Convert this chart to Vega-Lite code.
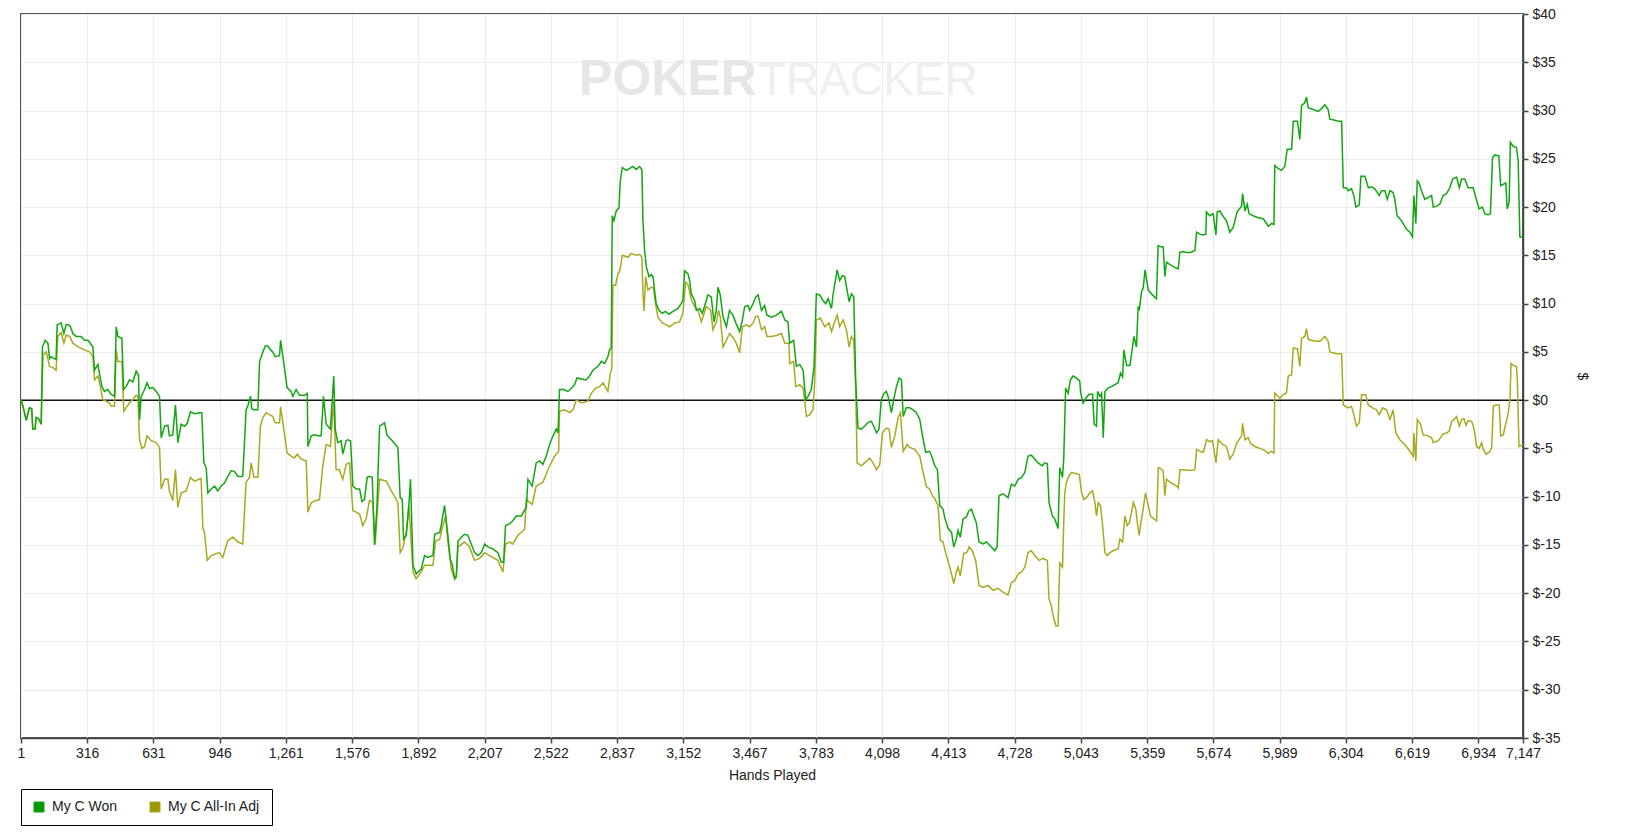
{
  "$schema": "https://vega.github.io/schema/vega-lite/v6.json",
  "width": 1502,
  "height": 724,
  "autosize": {"type": "none"},
  "padding": {"left": 21, "top": 14, "right": 112, "bottom": 98},
  "background": "#ffffff",
  "datasets": {
    "won": [
      {"h":1,"v":0.1},{"h":10,"v":-0.6},{"h":26,"v":-2.1},{"h":41,"v":-0.8},{"h":52,"v":-0.9},{"h":57,"v":-3.0},{"h":68,"v":-3.0},{"h":73,"v":-1.8},{"h":84,"v":-1.9},{"h":97,"v":-2.5},
      {"h":103,"v":5.5},{"h":116,"v":6.2},{"h":129,"v":5.9},{"h":137,"v":4.3},{"h":144,"v":4.5},{"h":160,"v":4.3},{"h":168,"v":4.2},{"h":173,"v":7.8},{"h":184,"v":7.9},{"h":192,"v":8.0},
      {"h":205,"v":6.9},{"h":216,"v":7.8},{"h":227,"v":7.8},{"h":236,"v":7.6},{"h":248,"v":6.9},{"h":263,"v":6.6},{"h":287,"v":6.6},{"h":303,"v":6.2},{"h":319,"v":6.2},{"h":327,"v":6.0},
      {"h":343,"v":5.5},{"h":351,"v":3.1},{"h":367,"v":3.7},{"h":374,"v":2.8},{"h":386,"v":1.4},{"h":398,"v":0.9},{"h":414,"v":1.1},{"h":430,"v":0.6},{"h":446,"v":0.4},{"h":454,"v":7.6},
      {"h":462,"v":6.6},{"h":481,"v":6.4},{"h":489,"v":1.1},{"h":501,"v":1.4},{"h":517,"v":2.1},{"h":533,"v":1.9},{"h":549,"v":3.0},{"h":560,"v":2.6},{"h":565,"v":-2.0},{"h":573,"v":0.4},
      {"h":589,"v":1.1},{"h":601,"v":1.8},{"h":612,"v":1.2},{"h":628,"v":1.3},{"h":644,"v":0.9},{"h":660,"v":0.4},{"h":668,"v":-3.9},{"h":684,"v":-2.7},{"h":700,"v":-2.6},{"h":707,"v":-3.7},
      {"h":723,"v":-3.6},{"h":736,"v":-0.5},{"h":747,"v":-4.4},{"h":763,"v":-2.5},{"h":779,"v":-2.7},{"h":792,"v":-2.4},{"h":807,"v":-1.2},{"h":826,"v":-1.4},{"h":850,"v":-1.3},{"h":861,"v":-1.3},
      {"h":871,"v":-6.5},{"h":882,"v":-7.0},{"h":890,"v":-9.6},{"h":906,"v":-9.2},{"h":922,"v":-8.9},{"h":937,"v":-9.4},{"h":953,"v":-8.9},{"h":969,"v":-8.6},{"h":985,"v":-7.9},{"h":1001,"v":-7.3},
      {"h":1017,"v":-7.4},{"h":1033,"v":-7.9},{"h":1056,"v":-7.9},{"h":1072,"v":-1.0},{"h":1080,"v":-0.6},{"h":1093,"v":0.4},{"h":1099,"v":-0.9},{"h":1109,"v":-1.0},{"h":1128,"v":-1.0},{"h":1136,"v":4.0},
      {"h":1152,"v":5.0},{"h":1163,"v":5.6},{"h":1175,"v":5.6},{"h":1188,"v":5.2},{"h":1199,"v":5.0},{"h":1210,"v":4.5},{"h":1231,"v":4.6},{"h":1236,"v":6.2},{"h":1247,"v":4.5},{"h":1267,"v":1.3},
      {"h":1286,"v":0.9},{"h":1294,"v":0.4},{"h":1310,"v":1.1},{"h":1326,"v":0.5},{"h":1350,"v":0.5},{"h":1363,"v":0.7},{"h":1366,"v":-4.8},{"h":1382,"v":-3.7},{"h":1397,"v":-3.6},{"h":1416,"v":-3.7},
      {"h":1429,"v":-3.7},{"h":1440,"v":0.4},{"h":1453,"v":-2.5},{"h":1473,"v":-3.0},{"h":1489,"v":2.5},{"h":1496,"v":-3.0},{"h":1508,"v":-4.4},{"h":1524,"v":-4.2},{"h":1532,"v":-5.6},{"h":1548,"v":-4.2},
      {"h":1556,"v":-4.1},{"h":1569,"v":-4.2},{"h":1580,"v":-8.9},{"h":1596,"v":-9.2},{"h":1612,"v":-9.2},{"h":1623,"v":-10.5},{"h":1635,"v":-10.3},{"h":1648,"v":-8.0},{"h":1659,"v":-7.9},{"h":1672,"v":-8.0},
      {"h":1683,"v":-15.0},{"h":1694,"v":-11.3},{"h":1707,"v":-2.7},{"h":1731,"v":-2.35},{"h":1742,"v":-3.6},{"h":1763,"v":-4.1},{"h":1794,"v":-4.9},{"h":1805,"v":-10.1},{"h":1815,"v":-10.3},{"h":1821,"v":-14.4},
      {"h":1834,"v":-14.0},{"h":1847,"v":-10.6},{"h":1854,"v":-8.2},{"h":1866,"v":-17.1},{"h":1881,"v":-18.0},{"h":1905,"v":-17.5},{"h":1921,"v":-16.1},{"h":1937,"v":-16.3},{"h":1961,"v":-16.1},{"h":1969,"v":-13.9},
      {"h":1993,"v":-13.7},{"h":2000,"v":-13.0},{"h":2016,"v":-10.9},{"h":2032,"v":-14.0},{"h":2043,"v":-16.4},{"h":2053,"v":-17.1},{"h":2064,"v":-18.5},{"h":2072,"v":-18.2},{"h":2080,"v":-14.6},{"h":2096,"v":-14.2},
      {"h":2111,"v":-13.9},{"h":2127,"v":-14.0},{"h":2143,"v":-14.9},{"h":2159,"v":-15.8},{"h":2175,"v":-16.1},{"h":2191,"v":-15.8},{"h":2207,"v":-14.9},{"h":2222,"v":-15.2},{"h":2246,"v":-15.4},{"h":2270,"v":-15.8},
      {"h":2286,"v":-16.8},{"h":2297,"v":-16.8},{"h":2306,"v":-13.0},{"h":2326,"v":-12.8},{"h":2341,"v":-12.5},{"h":2357,"v":-12.0},{"h":2381,"v":-12.0},{"h":2405,"v":-11.1},{"h":2413,"v":-8.2},{"h":2433,"v":-8.9},
      {"h":2452,"v":-6.5},{"h":2468,"v":-6.3},{"h":2484,"v":-6.65},{"h":2500,"v":-5.8},{"h":2516,"v":-4.6},{"h":2532,"v":-3.7},{"h":2548,"v":-3.0},{"h":2556,"v":-3.4},{"h":2563,"v":1.1},{"h":2583,"v":1.1},
      {"h":2603,"v":0.9},{"h":2619,"v":1.2},{"h":2635,"v":1.6},{"h":2646,"v":2.3},{"h":2667,"v":2.2},{"h":2690,"v":2.1},{"h":2709,"v":2.6},{"h":2722,"v":3.1},{"h":2746,"v":3.5},{"h":2762,"v":4.0},
      {"h":2778,"v":3.8},{"h":2793,"v":4.5},{"h":2801,"v":5.2},{"h":2809,"v":5.4},{"h":2814,"v":19.1},{"h":2822,"v":18.6},{"h":2833,"v":19.6},{"h":2846,"v":19.9},{"h":2852,"v":22.7},{"h":2862,"v":24.1},
      {"h":2881,"v":23.8},{"h":2897,"v":24.0},{"h":2912,"v":24.2},{"h":2928,"v":23.9},{"h":2944,"v":24.2},{"h":2955,"v":23.9},{"h":2960,"v":18.6},{"h":2968,"v":15.5},{"h":2976,"v":13.8},{"h":2989,"v":12.8},
      {"h":3000,"v":13.0},{"h":3008,"v":12.8},{"h":3015,"v":11.4},{"h":3023,"v":10.0},{"h":3036,"v":9.3},{"h":3052,"v":9.0},{"h":3068,"v":9.2},{"h":3084,"v":8.9},{"h":3103,"v":9.2},{"h":3127,"v":9.5},
      {"h":3142,"v":10.0},{"h":3150,"v":10.3},{"h":3158,"v":13.4},{"h":3174,"v":13.1},{"h":3182,"v":12.4},{"h":3190,"v":11.0},{"h":3206,"v":10.3},{"h":3214,"v":9.3},{"h":3230,"v":9.5},{"h":3242,"v":9.0},
      {"h":3253,"v":9.7},{"h":3269,"v":10.9},{"h":3285,"v":10.7},{"h":3298,"v":8.1},{"h":3309,"v":9.3},{"h":3317,"v":11.7},{"h":3328,"v":10.9},{"h":3341,"v":8.6},{"h":3357,"v":7.6},{"h":3372,"v":9.3},
      {"h":3388,"v":8.8},{"h":3404,"v":7.9},{"h":3420,"v":7.1},{"h":3433,"v":8.3},{"h":3444,"v":9.7},{"h":3460,"v":9.8},{"h":3468,"v":9.3},{"h":3484,"v":10.0},{"h":3497,"v":10.7},{"h":3508,"v":10.9},
      {"h":3524,"v":9.3},{"h":3539,"v":9.8},{"h":3550,"v":8.8},{"h":3571,"v":8.6},{"h":3595,"v":8.8},{"h":3619,"v":9.2},{"h":3635,"v":8.3},{"h":3650,"v":8.1},{"h":3658,"v":5.9},{"h":3677,"v":6.2},
      {"h":3690,"v":3.5},{"h":3706,"v":3.7},{"h":3722,"v":3.1},{"h":3734,"v":0.05},{"h":3746,"v":0.4},{"h":3761,"v":1.1},{"h":3774,"v":3.5},{"h":3785,"v":11.0},{"h":3801,"v":10.9},{"h":3817,"v":10.3},
      {"h":3830,"v":10.0},{"h":3841,"v":10.5},{"h":3857,"v":9.5},{"h":3865,"v":11.0},{"h":3884,"v":13.5},{"h":3896,"v":12.4},{"h":3909,"v":12.9},{"h":3920,"v":12.8},{"h":3931,"v":11.4},{"h":3941,"v":10.2},
      {"h":3952,"v":11.0},{"h":3963,"v":10.7},{"h":3972,"v":2.1},{"h":3983,"v":-2.9},{"h":3999,"v":-3.0},{"h":4015,"v":-2.7},{"h":4031,"v":-2.3},{"h":4047,"v":-2.2},{"h":4058,"v":-2.7},{"h":4071,"v":-3.4},
      {"h":4083,"v":-3.0},{"h":4094,"v":0.05},{"h":4106,"v":0.7},{"h":4118,"v":0.9},{"h":4126,"v":0.4},{"h":4142,"v":-1.3},{"h":4153,"v":0.05},{"h":4166,"v":1.4},{"h":4179,"v":2.3},{"h":4190,"v":2.1},
      {"h":4198,"v":-1.7},{"h":4213,"v":-0.8},{"h":4229,"v":-0.8},{"h":4245,"v":-1.0},{"h":4261,"v":-1.3},{"h":4277,"v":-2.0},{"h":4290,"v":-3.7},{"h":4305,"v":-5.4},{"h":4324,"v":-5.3},{"h":4337,"v":-6.0},
      {"h":4348,"v":-6.8},{"h":4361,"v":-7.2},{"h":4372,"v":-10.9},{"h":4388,"v":-11.3},{"h":4396,"v":-12.2},{"h":4412,"v":-13.3},{"h":4428,"v":-13.7},{"h":4439,"v":-15.2},{"h":4451,"v":-14.4},{"h":4459,"v":-13.5},
      {"h":4470,"v":-14.2},{"h":4483,"v":-12.3},{"h":4499,"v":-12.1},{"h":4510,"v":-11.5},{"h":4523,"v":-11.3},{"h":4534,"v":-12.0},{"h":4546,"v":-12.7},{"h":4559,"v":-14.7},{"h":4578,"v":-14.9},{"h":4594,"v":-14.7},
      {"h":4613,"v":-15.1},{"h":4634,"v":-15.6},{"h":4645,"v":-15.2},{"h":4654,"v":-9.9},{"h":4673,"v":-9.7},{"h":4697,"v":-10.1},{"h":4713,"v":-8.7},{"h":4729,"v":-8.9},{"h":4745,"v":-8.2},{"h":4761,"v":-8.0},
      {"h":4777,"v":-7.5},{"h":4792,"v":-5.8},{"h":4808,"v":-5.7},{"h":4824,"v":-6.1},{"h":4840,"v":-6.5},{"h":4860,"v":-6.8},{"h":4872,"v":-6.5},{"h":4884,"v":-6.6},{"h":4892,"v":-10.6},{"h":4908,"v":-12.0},
      {"h":4919,"v":-12.3},{"h":4935,"v":-13.3},{"h":4943,"v":-7.0},{"h":4956,"v":-8.0},{"h":4962,"v":-6.1},{"h":4971,"v":1.25},{"h":4983,"v":0.7},{"h":4994,"v":2.1},{"h":5006,"v":2.5},{"h":5022,"v":2.3},
      {"h":5038,"v":2.0},{"h":5043,"v":0.7},{"h":5054,"v":-0.3},{"h":5067,"v":0.2},{"h":5083,"v":0.6},{"h":5099,"v":0.6},{"h":5107,"v":-2.5},{"h":5118,"v":-2.7},{"h":5123,"v":0.9},{"h":5134,"v":0.4},
      {"h":5142,"v":0.7},{"h":5150,"v":-3.9},{"h":5158,"v":0.9},{"h":5173,"v":1.25},{"h":5189,"v":1.4},{"h":5205,"v":1.6},{"h":5221,"v":1.8},{"h":5232,"v":2.8},{"h":5242,"v":2.4},{"h":5248,"v":5.2},
      {"h":5261,"v":3.6},{"h":5277,"v":3.6},{"h":5289,"v":5.5},{"h":5296,"v":6.6},{"h":5308,"v":5.5},{"h":5316,"v":9.7},{"h":5321,"v":9.3},{"h":5332,"v":11.2},{"h":5340,"v":11.6},{"h":5349,"v":13.5},
      {"h":5364,"v":11.4},{"h":5384,"v":10.9},{"h":5403,"v":10.5},{"h":5411,"v":16.0},{"h":5422,"v":15.9},{"h":5435,"v":15.9},{"h":5443,"v":12.8},{"h":5451,"v":14.3},{"h":5470,"v":14.0},{"h":5486,"v":13.8},
      {"h":5507,"v":13.6},{"h":5514,"v":15.3},{"h":5530,"v":15.4},{"h":5546,"v":15.3},{"h":5565,"v":15.3},{"h":5586,"v":15.5},{"h":5594,"v":17.4},{"h":5610,"v":17.2},{"h":5625,"v":17.1},{"h":5638,"v":17.2},
      {"h":5641,"v":19.5},{"h":5657,"v":19.1},{"h":5673,"v":19.3},{"h":5686,"v":17.1},{"h":5692,"v":19.5},{"h":5705,"v":19.6},{"h":5721,"v":19.0},{"h":5736,"v":18.6},{"h":5752,"v":17.4},{"h":5768,"v":17.9},
      {"h":5787,"v":19.5},{"h":5808,"v":20.1},{"h":5813,"v":21.4},{"h":5824,"v":19.6},{"h":5835,"v":20.3},{"h":5844,"v":19.3},{"h":5863,"v":19.1},{"h":5887,"v":18.9},{"h":5911,"v":18.8},{"h":5927,"v":18.3},
      {"h":5935,"v":18.0},{"h":5951,"v":18.3},{"h":5962,"v":18.2},{"h":5966,"v":24.3},{"h":5982,"v":24.0},{"h":5998,"v":23.8},{"h":6014,"v":24.2},{"h":6025,"v":26.0},{"h":6046,"v":26.0},{"h":6054,"v":28.9},
      {"h":6074,"v":28.9},{"h":6085,"v":27.0},{"h":6089,"v":28.6},{"h":6093,"v":30.5},{"h":6109,"v":30.8},{"h":6117,"v":31.4},{"h":6125,"v":30.3},{"h":6149,"v":30.1},{"h":6173,"v":29.9},{"h":6188,"v":30.2},
      {"h":6204,"v":30.6},{"h":6220,"v":30.1},{"h":6228,"v":29.1},{"h":6252,"v":29.0},{"h":6268,"v":28.9},{"h":6284,"v":28.9},{"h":6292,"v":22.0},{"h":6307,"v":22.0},{"h":6315,"v":21.7},{"h":6331,"v":21.9},
      {"h":6342,"v":21.2},{"h":6352,"v":20.0},{"h":6368,"v":20.2},{"h":6376,"v":23.2},{"h":6395,"v":23.2},{"h":6411,"v":22.0},{"h":6426,"v":22.1},{"h":6442,"v":21.9},{"h":6463,"v":21.2},{"h":6474,"v":21.7},
      {"h":6490,"v":21.7},{"h":6501,"v":20.8},{"h":6514,"v":21.7},{"h":6529,"v":21.5},{"h":6537,"v":20.8},{"h":6548,"v":19.1},{"h":6561,"v":18.8},{"h":6577,"v":18.3},{"h":6593,"v":17.7},{"h":6609,"v":17.4},
      {"h":6621,"v":16.9},{"h":6628,"v":21.2},{"h":6637,"v":18.3},{"h":6644,"v":22.7},{"h":6652,"v":22.5},{"h":6664,"v":21.7},{"h":6680,"v":20.8},{"h":6696,"v":21.0},{"h":6712,"v":21.2},{"h":6720,"v":20.0},
      {"h":6736,"v":20.1},{"h":6751,"v":20.3},{"h":6767,"v":21.2},{"h":6783,"v":21.4},{"h":6799,"v":22.0},{"h":6812,"v":22.9},{"h":6831,"v":23.1},{"h":6844,"v":22.0},{"h":6855,"v":22.9},{"h":6870,"v":22.9},
      {"h":6886,"v":22.0},{"h":6910,"v":22.0},{"h":6926,"v":20.7},{"h":6938,"v":19.8},{"h":6954,"v":20.0},{"h":6965,"v":19.3},{"h":6981,"v":19.2},{"h":6992,"v":19.3},{"h":7002,"v":25.1},{"h":7013,"v":25.4},
      {"h":7032,"v":25.3},{"h":7041,"v":22.2},{"h":7056,"v":22.4},{"h":7065,"v":22.5},{"h":7072,"v":19.8},{"h":7081,"v":20.5},{"h":7087,"v":26.7},{"h":7100,"v":26.3},{"h":7116,"v":26.2},{"h":7124,"v":24.8},
      {"h":7132,"v":16.9},{"h":7147,"v":16.9}
    ],
    "adj": [
      {"h":1,"v":0.1},{"h":10,"v":-0.6},{"h":26,"v":-2.1},{"h":41,"v":-0.8},{"h":52,"v":-0.9},{"h":57,"v":-3.0},{"h":68,"v":-3.0},{"h":73,"v":-1.8},{"h":84,"v":-1.9},{"h":97,"v":-2.5},
      {"h":106,"v":4.7},{"h":121,"v":5.0},{"h":137,"v":3.5},{"h":152,"v":3.4},{"h":168,"v":3.1},{"h":176,"v":6.6},{"h":192,"v":7.0},{"h":205,"v":5.9},{"h":216,"v":6.75},{"h":232,"v":6.6},
      {"h":248,"v":5.9},{"h":271,"v":5.55},{"h":303,"v":5.2},{"h":327,"v":5.0},{"h":343,"v":4.5},{"h":351,"v":2.1},{"h":367,"v":2.5},{"h":379,"v":1.4},{"h":390,"v":0.05},{"h":406,"v":-0.1},
      {"h":422,"v":-0.3},{"h":430,"v":-0.6},{"h":446,"v":-0.6},{"h":454,"v":5.2},{"h":462,"v":4.0},{"h":481,"v":4.0},{"h":490,"v":-1.15},{"h":501,"v":-0.8},{"h":517,"v":-0.3},{"h":533,"v":0.05},
      {"h":549,"v":0.5},{"h":557,"v":0.4},{"h":565,"v":-4.1},{"h":576,"v":-5.0},{"h":589,"v":-4.8},{"h":601,"v":-3.7},{"h":620,"v":-4.2},{"h":644,"v":-4.4},{"h":660,"v":-4.9},{"h":668,"v":-9.2},
      {"h":684,"v":-8.2},{"h":700,"v":-8.2},{"h":707,"v":-9.4},{"h":723,"v":-10.4},{"h":736,"v":-7.2},{"h":747,"v":-11.1},{"h":763,"v":-9.6},{"h":787,"v":-9.4},{"h":807,"v":-8.0},{"h":826,"v":-8.4},
      {"h":858,"v":-8.1},{"h":866,"v":-13.2},{"h":874,"v":-13.7},{"h":887,"v":-16.6},{"h":906,"v":-16.1},{"h":930,"v":-15.9},{"h":945,"v":-15.8},{"h":961,"v":-16.3},{"h":985,"v":-14.55},{"h":1009,"v":-14.2},
      {"h":1033,"v":-14.7},{"h":1056,"v":-14.9},{"h":1072,"v":-8.5},{"h":1088,"v":-8.0},{"h":1096,"v":-6.5},{"h":1109,"v":-8.0},{"h":1128,"v":-8.0},{"h":1140,"v":-2.7},{"h":1152,"v":-1.8},{"h":1167,"v":-1.3},
      {"h":1183,"v":-1.5},{"h":1199,"v":-1.7},{"h":1210,"v":-2.35},{"h":1231,"v":-2.35},{"h":1236,"v":-0.7},{"h":1247,"v":-2.35},{"h":1267,"v":-5.45},{"h":1286,"v":-5.8},{"h":1302,"v":-6.0},{"h":1315,"v":-5.6},
      {"h":1334,"v":-6.1},{"h":1358,"v":-6.3},{"h":1366,"v":-11.6},{"h":1382,"v":-10.6},{"h":1405,"v":-10.4},{"h":1421,"v":-10.3},{"h":1437,"v":-6.8},{"h":1453,"v":-4.6},{"h":1473,"v":-4.8},{"h":1489,"v":0.05},
      {"h":1500,"v":-7.2},{"h":1516,"v":-7.2},{"h":1532,"v":-8.2},{"h":1548,"v":-6.65},{"h":1564,"v":-6.5},{"h":1580,"v":-11.45},{"h":1596,"v":-11.6},{"h":1612,"v":-11.8},{"h":1627,"v":-13.0},{"h":1643,"v":-12.3},
      {"h":1659,"v":-10.4},{"h":1675,"v":-10.6},{"h":1686,"v":-14.9},{"h":1707,"v":-8.2},{"h":1739,"v":-8.4},{"h":1763,"v":-9.4},{"h":1794,"v":-10.6},{"h":1805,"v":-15.8},{"h":1818,"v":-15.3},{"h":1835,"v":-13.5},
      {"h":1847,"v":-11.0},{"h":1866,"v":-17.8},{"h":1881,"v":-18.5},{"h":1905,"v":-17.8},{"h":1921,"v":-17.1},{"h":1961,"v":-17.1},{"h":1973,"v":-14.6},{"h":1993,"v":-14.4},{"h":2008,"v":-13.0},{"h":2021,"v":-12.0},
      {"h":2032,"v":-14.7},{"h":2048,"v":-17.5},{"h":2064,"v":-18.5},{"h":2072,"v":-18.4},{"h":2080,"v":-15.2},{"h":2111,"v":-14.7},{"h":2135,"v":-15.2},{"h":2159,"v":-16.6},{"h":2183,"v":-16.4},{"h":2207,"v":-15.8},
      {"h":2230,"v":-16.1},{"h":2270,"v":-16.6},{"h":2294,"v":-17.8},{"h":2306,"v":-14.9},{"h":2326,"v":-14.7},{"h":2341,"v":-14.9},{"h":2365,"v":-14.0},{"h":2397,"v":-13.4},{"h":2405,"v":-10.3},{"h":2433,"v":-10.8},
      {"h":2452,"v":-8.9},{"h":2484,"v":-8.5},{"h":2516,"v":-6.8},{"h":2540,"v":-5.8},{"h":2559,"v":-5.3},{"h":2563,"v":-1.15},{"h":2587,"v":-1.0},{"h":2611,"v":-1.3},{"h":2627,"v":-1.0},{"h":2643,"v":0.05},
      {"h":2667,"v":-0.3},{"h":2698,"v":-0.1},{"h":2714,"v":0.7},{"h":2735,"v":1.25},{"h":2754,"v":1.4},{"h":2770,"v":1.8},{"h":2780,"v":1.4},{"h":2793,"v":0.9},{"h":2805,"v":2.8},{"h":2812,"v":3.3},
      {"h":2817,"v":11.9},{"h":2830,"v":11.9},{"h":2841,"v":13.1},{"h":2849,"v":13.3},{"h":2862,"v":15.0},{"h":2889,"v":14.8},{"h":2904,"v":15.2},{"h":2928,"v":15.0},{"h":2944,"v":15.1},{"h":2955,"v":14.8},
      {"h":2960,"v":11.0},{"h":2965,"v":9.2},{"h":2973,"v":12.8},{"h":2984,"v":11.4},{"h":3000,"v":11.7},{"h":3010,"v":11.6},{"h":3020,"v":10.0},{"h":3031,"v":8.6},{"h":3052,"v":8.0},{"h":3071,"v":7.8},
      {"h":3087,"v":7.6},{"h":3111,"v":8.0},{"h":3134,"v":8.1},{"h":3150,"v":9.0},{"h":3163,"v":12.2},{"h":3174,"v":12.0},{"h":3190,"v":10.4},{"h":3206,"v":9.7},{"h":3222,"v":9.3},{"h":3238,"v":8.1},
      {"h":3261,"v":9.7},{"h":3282,"v":9.3},{"h":3293,"v":7.3},{"h":3309,"v":8.1},{"h":3320,"v":9.3},{"h":3328,"v":8.6},{"h":3341,"v":5.5},{"h":3357,"v":6.2},{"h":3372,"v":6.9},{"h":3388,"v":6.5},
      {"h":3404,"v":5.9},{"h":3420,"v":4.9},{"h":3433,"v":7.6},{"h":3452,"v":7.8},{"h":3468,"v":7.6},{"h":3484,"v":8.0},{"h":3497,"v":8.7},{"h":3508,"v":8.7},{"h":3524,"v":7.3},{"h":3539,"v":7.6},
      {"h":3550,"v":6.6},{"h":3571,"v":6.6},{"h":3595,"v":6.7},{"h":3619,"v":6.9},{"h":3635,"v":5.9},{"h":3655,"v":5.9},{"h":3658,"v":3.8},{"h":3677,"v":4.0},{"h":3687,"v":1.4},{"h":3706,"v":1.6},
      {"h":3722,"v":1.25},{"h":3738,"v":-1.7},{"h":3753,"v":-1.5},{"h":3769,"v":-1.0},{"h":3777,"v":1.8},{"h":3785,"v":8.3},{"h":3804,"v":8.5},{"h":3825,"v":7.6},{"h":3845,"v":8.0},{"h":3857,"v":7.1},
      {"h":3872,"v":8.1},{"h":3884,"v":8.8},{"h":3896,"v":7.6},{"h":3912,"v":8.3},{"h":3928,"v":7.3},{"h":3941,"v":5.5},{"h":3952,"v":6.6},{"h":3963,"v":6.2},{"h":3972,"v":1.4},{"h":3979,"v":-6.5},
      {"h":3999,"v":-6.8},{"h":4015,"v":-6.5},{"h":4039,"v":-6.0},{"h":4055,"v":-6.5},{"h":4071,"v":-7.2},{"h":4087,"v":-6.65},{"h":4099,"v":-3.4},{"h":4118,"v":-2.9},{"h":4131,"v":-3.0},{"h":4142,"v":-4.9},
      {"h":4158,"v":-3.7},{"h":4174,"v":-1.8},{"h":4185,"v":-1.3},{"h":4198,"v":-5.3},{"h":4217,"v":-4.6},{"h":4229,"v":-4.9},{"h":4253,"v":-5.1},{"h":4277,"v":-5.8},{"h":4293,"v":-7.5},{"h":4309,"v":-9.0},
      {"h":4324,"v":-9.2},{"h":4337,"v":-9.9},{"h":4348,"v":-10.2},{"h":4364,"v":-10.9},{"h":4375,"v":-14.5},{"h":4388,"v":-14.7},{"h":4401,"v":-15.9},{"h":4420,"v":-17.3},{"h":4439,"v":-19.0},{"h":4451,"v":-17.8},
      {"h":4459,"v":-17.3},{"h":4470,"v":-18.2},{"h":4486,"v":-15.9},{"h":4502,"v":-15.75},{"h":4512,"v":-15.2},{"h":4527,"v":-15.6},{"h":4543,"v":-16.6},{"h":4559,"v":-19.2},{"h":4578,"v":-19.4},{"h":4602,"v":-19.2},
      {"h":4626,"v":-19.7},{"h":4650,"v":-19.5},{"h":4673,"v":-19.9},{"h":4697,"v":-20.2},{"h":4713,"v":-18.9},{"h":4729,"v":-18.7},{"h":4745,"v":-18.0},{"h":4761,"v":-17.8},{"h":4777,"v":-17.3},{"h":4792,"v":-15.8},
      {"h":4808,"v":-15.6},{"h":4824,"v":-16.1},{"h":4845,"v":-16.6},{"h":4864,"v":-16.4},{"h":4884,"v":-16.6},{"h":4892,"v":-20.6},{"h":4903,"v":-21.3},{"h":4911,"v":-22.3},{"h":4925,"v":-23.4},{"h":4935,"v":-23.4},
      {"h":4943,"v":-16.9},{"h":4956,"v":-17.3},{"h":4963,"v":-12.0},{"h":4967,"v":-9.6},{"h":4975,"v":-8.5},{"h":4988,"v":-7.8},{"h":4999,"v":-7.5},{"h":5020,"v":-7.6},{"h":5036,"v":-7.7},{"h":5047,"v":-9.6},
      {"h":5058,"v":-10.3},{"h":5070,"v":-10.1},{"h":5086,"v":-9.6},{"h":5099,"v":-9.4},{"h":5110,"v":-10.6},{"h":5118,"v":-12.0},{"h":5126,"v":-10.6},{"h":5137,"v":-10.95},{"h":5147,"v":-13.0},{"h":5158,"v":-15.8},
      {"h":5169,"v":-16.1},{"h":5182,"v":-15.8},{"h":5197,"v":-15.6},{"h":5221,"v":-15.4},{"h":5229,"v":-14.4},{"h":5242,"v":-14.7},{"h":5253,"v":-12.0},{"h":5264,"v":-13.0},{"h":5274,"v":-12.7},{"h":5285,"v":-11.6},
      {"h":5293,"v":-10.6},{"h":5305,"v":-11.3},{"h":5312,"v":-12.7},{"h":5321,"v":-14.0},{"h":5329,"v":-12.7},{"h":5340,"v":-11.3},{"h":5351,"v":-9.6},{"h":5364,"v":-10.9},{"h":5375,"v":-12.0},{"h":5391,"v":-12.3},
      {"h":5404,"v":-12.5},{"h":5412,"v":-7.0},{"h":5423,"v":-7.1},{"h":5435,"v":-7.3},{"h":5443,"v":-9.9},{"h":5451,"v":-8.2},{"h":5467,"v":-8.5},{"h":5483,"v":-8.7},{"h":5499,"v":-8.9},{"h":5507,"v":-9.1},
      {"h":5515,"v":-7.2},{"h":5531,"v":-7.2},{"h":5562,"v":-7.3},{"h":5586,"v":-7.2},{"h":5594,"v":-5.1},{"h":5610,"v":-5.3},{"h":5626,"v":-5.4},{"h":5642,"v":-4.1},{"h":5659,"v":-4.3},{"h":5670,"v":-4.2},
      {"h":5686,"v":-6.5},{"h":5697,"v":-4.1},{"h":5713,"v":-4.5},{"h":5736,"v":-4.8},{"h":5752,"v":-6.1},{"h":5768,"v":-5.6},{"h":5784,"v":-4.5},{"h":5808,"v":-3.7},{"h":5813,"v":-2.4},{"h":5824,"v":-4.1},
      {"h":5840,"v":-3.9},{"h":5851,"v":-4.5},{"h":5871,"v":-4.8},{"h":5895,"v":-5.0},{"h":5919,"v":-5.2},{"h":5935,"v":-5.5},{"h":5951,"v":-5.3},{"h":5962,"v":-5.5},{"h":5966,"v":0.74},{"h":5990,"v":0.2},
      {"h":6006,"v":0.57},{"h":6022,"v":0.74},{"h":6030,"v":2.5},{"h":6046,"v":2.6},{"h":6054,"v":5.4},{"h":6074,"v":5.3},{"h":6085,"v":3.5},{"h":6093,"v":6.4},{"h":6109,"v":6.6},{"h":6117,"v":7.4},
      {"h":6125,"v":6.3},{"h":6157,"v":6.1},{"h":6181,"v":6.1},{"h":6204,"v":6.6},{"h":6220,"v":6.1},{"h":6228,"v":5.0},{"h":6260,"v":4.8},{"h":6284,"v":4.8},{"h":6292,"v":-0.5},{"h":6315,"v":-0.8},
      {"h":6331,"v":-0.65},{"h":6342,"v":-1.5},{"h":6355,"v":-2.7},{"h":6368,"v":-2.35},{"h":6379,"v":0.57},{"h":6399,"v":0.57},{"h":6411,"v":-0.5},{"h":6431,"v":-0.8},{"h":6450,"v":-1.0},{"h":6463,"v":-1.5},
      {"h":6479,"v":-0.8},{"h":6498,"v":-1.0},{"h":6514,"v":-2.0},{"h":6529,"v":-1.0},{"h":6542,"v":-3.4},{"h":6561,"v":-4.1},{"h":6585,"v":-4.6},{"h":6609,"v":-5.3},{"h":6625,"v":-5.8},{"h":6628,"v":-3.4},
      {"h":6637,"v":-6.3},{"h":6644,"v":-2.0},{"h":6660,"v":-2.5},{"h":6672,"v":-3.6},{"h":6696,"v":-3.7},{"h":6712,"v":-3.9},{"h":6720,"v":-4.4},{"h":6744,"v":-4.2},{"h":6768,"v":-3.5},{"h":6784,"v":-3.4},
      {"h":6796,"v":-3.2},{"h":6808,"v":-2.2},{"h":6819,"v":-2.0},{"h":6831,"v":-1.7},{"h":6844,"v":-2.7},{"h":6855,"v":-2.0},{"h":6866,"v":-1.9},{"h":6876,"v":-2.6},{"h":6887,"v":-2.1},{"h":6903,"v":-2.2},
      {"h":6911,"v":-2.7},{"h":6919,"v":-3.6},{"h":6926,"v":-4.8},{"h":6939,"v":-5.0},{"h":6950,"v":-4.4},{"h":6958,"v":-5.1},{"h":6971,"v":-5.6},{"h":6987,"v":-5.4},{"h":6998,"v":-4.9},{"h":7006,"v":-0.6},
      {"h":7018,"v":-0.5},{"h":7034,"v":-0.5},{"h":7041,"v":-3.7},{"h":7053,"v":-3.6},{"h":7077,"v":-1.3},{"h":7085,"v":0.1},{"h":7090,"v":3.8},{"h":7100,"v":3.6},{"h":7116,"v":3.5},{"h":7120,"v":2.1},
      {"h":7128,"v":-4.8},{"h":7147,"v":-4.6}
    ]
  },
  "layer": [
    {
      "data": {"values": [{"t": "POKER"}]},
      "mark": {"type": "text", "font": "Liberation Sans", "fontWeight": "bold", "fontSize": 50, "color": "#e6e6e6", "align": "right", "baseline": "alphabetic"},
      "encoding": {
        "x": {"datum": 3502, "type": "quantitative", "scale": {"domain": [1, 7147], "nice": false, "zero": false}},
        "y": {"datum": 31.6, "type": "quantitative", "scale": {"domain": [-35, 40], "nice": false, "zero": false}},
        "text": {"field": "t"}
      }
    },
    {
      "data": {"values": [{"t": "TRACKER"}]},
      "mark": {"type": "text", "font": "Liberation Sans", "fontWeight": "normal", "fontSize": 46, "color": "#efefef", "align": "left", "baseline": "alphabetic"},
      "encoding": {
        "x": {"datum": 3507, "type": "quantitative"},
        "y": {"datum": 31.6, "type": "quantitative"},
        "text": {"field": "t"}
      }
    },
    {
      "data": {"values": [{}]},
      "mark": {"type": "rule", "color": "#111111", "strokeWidth": 1.5},
      "encoding": {"y": {"datum": 0, "type": "quantitative"}}
    },
    {
      "data": {"name": "adj"},
      "mark": {"type": "line", "strokeWidth": 1.5, "interpolate": "linear"},
      "encoding": {
        "x": {
          "field": "h", "type": "quantitative", "title": "Hands Played",
          "scale": {"domain": [1, 7147], "nice": false, "zero": false},
          "axis": {
            "values": [1,316,631,946,1261,1576,1892,2207,2522,2837,3152,3467,3783,4098,4413,4728,5043,5359,5674,5989,6304,6619,6934,7147],
            "format": ",d", "labelFlush": false, "labelOverlap": false, "labelPadding": 3, "titlePadding": 8, "grid": true
          }
        },
        "y": {
          "field": "v", "type": "quantitative", "title": "$",
          "scale": {"domain": [-35, 40], "nice": false, "zero": false},
          "axis": {
            "orient": "right",
            "values": [-35,-30,-25,-20,-15,-10,-5,0,5,10,15,20,25,30,35,40],
            "labelExpr": "'$' + datum.value", "labelPadding": 4, "titlePadding": 14, "grid": true
          }
        },
        "color": {
          "datum": "My C All-In Adj",
          "scale": {"domain": ["My C Won", "My C All-In Adj"], "range": ["#12a612", "#a9a921"]},
          "legend": {
            "orient": "none", "legendX": 0, "legendY": 775, "direction": "horizontal", "title": null,
            "padding": 11, "strokeColor": "#000000", "fillColor": "#ffffff",
            "symbolType": "square", "symbolSize": 100, "symbolStrokeWidth": 1, "symbolStrokeColor": "#222222",
            "labelFont": "Liberation Sans", "labelFontSize": 14, "labelColor": "#222222", "labelOffset": 6, "columnPadding": 30,
            "encode": {"symbols": {"update": {
              "fill": [{"test": "datum.value === 'My C Won'", "value": "#009a00"}, {"value": "#9a9a00"}],
              "stroke": {"value": "#222222"}, "strokeWidth": {"value": 1}, "opacity": {"value": 1}
            }}}
          }
        }
      }
    },
    {
      "data": {"name": "won"},
      "mark": {"type": "line", "strokeWidth": 1.5, "interpolate": "linear"},
      "encoding": {
        "x": {"field": "h", "type": "quantitative"},
        "y": {"field": "v", "type": "quantitative"},
        "color": {"datum": "My C Won"}
      }
    }
  ],
  "config": {
    "font": "Liberation Sans",
    "view": {"stroke": "#555555", "strokeWidth": 2},
    "axis": {
      "labelFont": "Liberation Sans", "labelFontSize": 14, "labelColor": "#222222",
      "titleFont": "Liberation Sans", "titleFontSize": 14, "titleFontWeight": "normal", "titleColor": "#222222",
      "gridColor": "#ececec", "gridWidth": 1,
      "domainColor": "#444444", "domainWidth": 1.5,
      "tickColor": "#444444", "tickSize": 5, "tickWidth": 1.5
    }
  }
}
